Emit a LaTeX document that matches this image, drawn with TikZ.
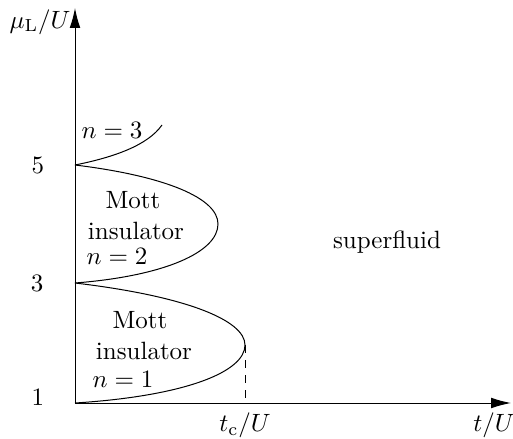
\documentclass[tikz,border=0pt]{standalone}
\usepackage{amsmath}
\usetikzlibrary{arrows.meta,positioning,calc}
\tikzset{
  axis/.style={-{Latex[length=2.8mm,width=1.5mm]}, thin, black},
  lobe/.style={thin, black},
  tick/.style={font=\normalsize},
  note/.style={align=center, inner sep=0pt}
}
\begin{document}
\begin{tikzpicture}[x=0.4pt, y=-0.4pt]
  \useasboundingbox (0,0) rectangle (513,439);
  \coordinate (O) at (75,403);
  \coordinate (ytop) at (75,8);
  \coordinate (xend) at (511,403);
  \coordinate (m3) at (75,283);
  \coordinate (m5) at (75,165);
  \coordinate (tip1) at (245,345);
  \coordinate (tip2) at (218,224);
  \coordinate (end3) at (162,125);
  \coordinate (tc) at (245,403);
  \draw[axis] (O) -- (xend);
  \draw[axis] (O) -- (ytop);
  % Mott lobes
  \draw[lobe] (O) .. controls (185,396) and (245,372) .. (tip1)
              .. controls (245,320) and (185,296) .. (m3);
  \draw[lobe] (m3) .. controls (165,276) and (218,252) .. (tip2)
              .. controls (218,198) and (165,176) .. (m5);
  \draw[lobe] (m5) .. controls (115,157) and (148,145) .. (end3);
  \draw[dashed] (tip1) -- (tc);
  % labels
  \node[tick] (l1) at (38,397) {1};
  \node[tick] (l3) at (37,283) {3};
  \node[tick] (l5) at (38,165) {5};
  \node (ylab) at (40,22) {$\mu_{\mathrm{L}}/U$};
  \node (tclab) at (245,425) {$t_{\mathrm{c}}/U$};
  \node (xlab) at (494,425) {$t/U$};
  \node (mott1) at (140,320) {Mott};
  \node (ins1) at (144,351) {insulator};
  \node (n1) at (123,379) {$n=1$};
  \node (mott2) at (133,200) {Mott};
  \node (ins2) at (136,231) {insulator};
  \node (n2) at (117,256) {$n=2$};
  \node (n3) at (112,130) {$n=3$};
  \node (sf) at (387,242) {superfluid};
\end{tikzpicture}
\end{document}
